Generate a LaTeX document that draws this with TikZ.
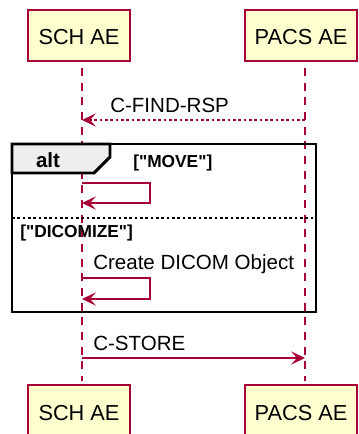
\documentclass[tikz,border=0pt]{standalone}
\usepackage{fontspec}
\setmainfont{Liberation Sans}
\usetikzlibrary{arrows.meta}
\definecolor{pborder}{HTML}{A80036}
\definecolor{pfill}{HTML}{FEFECE}
\definecolor{tabfill}{HTML}{EEEEEE}
\tikzset{
  part/.style={draw=pborder, fill=pfill, line width=1.2pt},
  lifeline/.style={draw=pborder, line width=0.9pt, dash pattern=on 6pt off 5pt},
  msg/.style={draw=pborder, line width=1pt, -{Stealth[length=10.5pt,width=10pt,inset=4.5pt]}},
  msgdot/.style={msg, dash pattern=on 2pt off 2pt},
  ptext/.style={font=\fontsize{16.3pt}{19pt}\selectfont, anchor=base, inner sep=0pt},
  mtext/.style={font=\fontsize{15.4pt}{18pt}\selectfont, anchor=base west, inner sep=0pt},
  gtext/.style={font=\fontsize{13pt}{15pt}\selectfont\bfseries, anchor=base west, inner sep=0pt},
  framebox/.style={draw=black, line width=2.2pt},
}
\begin{document}
\begin{tikzpicture}[x=0.75pt, y=-0.75pt]
\useasboundingbox (0,0) rectangle (358,434);
\begin{scope}
\clip (0,0) rectangle (358,434);
% participant boxes
\path[part] (28,10) rectangle (130,61);
\path[part] (245,10) rectangle (357,61);
\path[part] (28,385) rectangle (130,436);
\path[part] (245,385) rectangle (357,436);
\node[ptext] (schtop) at (79,45) {SCH AE};
\node[ptext] (pacstop) at (301,45) {PACS AE};
\node[ptext] (schbot) at (79,420) {SCH AE};
\node[ptext] (pacsbot) at (301,420) {PACS AE};
% lifelines
\coordinate (sA) at (82,68);
\coordinate (sB) at (82,381);
\coordinate (pA) at (305,68);
\coordinate (pB) at (305,381);
\draw[lifeline] (sA) -- (sB);
\draw[lifeline] (pA) -- (pB);
% C-FIND-RSP
\coordinate (f1) at (305,120);
\coordinate (f2) at (82,120);
\draw[msgdot] (f1) -- (f2);
\node[mtext] (lfind) at (110,113) {C-FIND-RSP};
% alt frame
\draw[black, line width=2.2pt, fill=tabfill] (12,144) -- (110,144) -- (110,157) -- (94,173) -- (12,173) -- cycle;
\draw[framebox] (12,144) rectangle (316,312);
\node[font=\fontsize{15.4pt}{18pt}\selectfont\bfseries, anchor=base, inner sep=0pt] (lalt) at (48,168) {alt};
\node[gtext] (lmove) at (133,168) {[\textquotedbl MOVE\textquotedbl]};
% self message 1
\coordinate (m1a) at (82,183);
\coordinate (m1b) at (150,183);
\coordinate (m1c) at (150,203);
\coordinate (m1d) at (82,203);
\draw[msg] (m1a) -- (m1b) -- (m1c) -- (m1d);
% separator
\draw[black, line width=0.9pt, dash pattern=on 2pt off 2pt] (12,218) -- (316,218);
\node[gtext] (ldicom) at (20,237) {[\textquotedbl DICOMIZE\textquotedbl]};
% self message 2
\node[mtext] (lcreate) at (93,269) {Create DICOM Object};
\coordinate (m2a) at (82,278);
\coordinate (m2b) at (150,278);
\coordinate (m2c) at (150,299);
\coordinate (m2d) at (82,299);
\draw[msg] (m2a) -- (m2b) -- (m2c) -- (m2d);
% C-STORE
\node[mtext] (lstore) at (93,350) {C-STORE};
\coordinate (s1) at (82,358);
\coordinate (s2) at (305,358);
\draw[msg] (s1) -- (s2);
\end{scope}
\end{tikzpicture}
\end{document}
